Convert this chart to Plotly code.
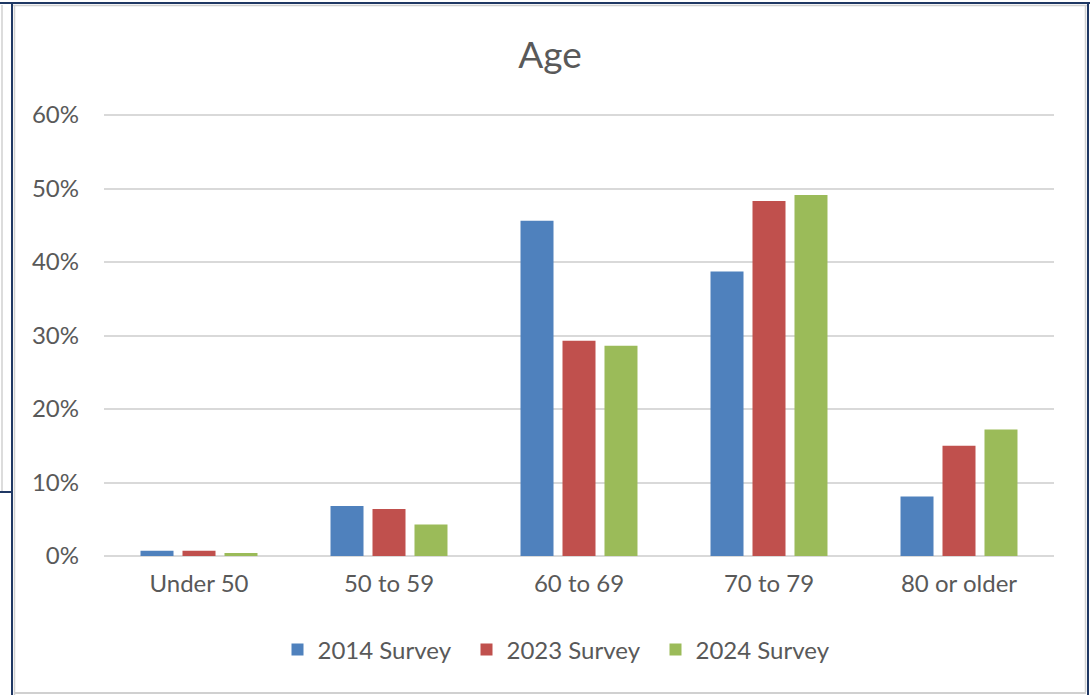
import plotly.graph_objects as go

# Age distribution of respondents across three survey rounds
age_groups = ["Under 50", "50 to 59", "60 to 69", "70 to 79", "80 or older"]
survey_2014 = [0.007, 0.068, 0.456, 0.387, 0.081]
survey_2023 = [0.007, 0.064, 0.293, 0.483, 0.150]
survey_2024 = [0.004, 0.043, 0.286, 0.491, 0.172]
y_ticks = [0, 0.1, 0.2, 0.3, 0.4, 0.5, 0.6]

series = [
    ("2014 Survey", survey_2014, "#4f81bd"),
    ("2023 Survey", survey_2023, "#c0504d"),
    ("2024 Survey", survey_2024, "#9bbb59"),
]

W, H = 1090, 695
L, R, T, B = 104, 36, 113, 139
Y_MAX = 0.6 * (H - T - B) / (H - 115 - B)
FONT = "Lato"
GREY_TEXT = "#595959"

fig = go.Figure()
for name, vals, color in series:
    fig.add_trace(go.Bar(
        x=age_groups, y=vals, name=name,
        marker=dict(color=color, line=dict(width=0)),
    ))


def px_x(p):
    return (p - L) / (W - L - R)


def px_y(p):
    return (H - B - p) / (H - T - B)


NAVY = "#1f3864"
LIGHT = "#d0d0d0"
frame = [
    # outer frame lines around the chart area
    (0, 3, W, 3, NAVY, 2),
    (12, 5.5, 1088, 5.5, LIGHT, 1.5),
    (12, 3, 12, H, NAVY, 2),
    (14.5, 5, 14.5, H, LIGHT, 1.5),
    (2, 5, 2, 492, LIGHT, 1.5),
    (0, 492, 12, 492, NAVY, 2),
    (1088, 3, 1088, H, NAVY, 2),
    (1085.5, 5, 1085.5, 692, LIGHT, 1.5),
    (14, 693, 1086, 693, LIGHT, 2),
]
shapes = []
for x0, y0, x1, y1, c, w in frame:
    shapes.append(dict(
        type="line", xref="paper", yref="paper",
        x0=px_x(x0), y0=px_y(y0), x1=px_x(x1), y1=px_y(y1),
        line=dict(color=c, width=w),
    ))

fig.update_layout(
    width=W, height=H,
    margin=dict(l=L, r=R, t=T, b=B, pad=0),
    paper_bgcolor="white", plot_bgcolor="white",
    barmode="group", bargap=0.337, bargroupgap=0.214,
    font=dict(family=FONT, color=GREY_TEXT, size=24),
    title=dict(
        text="Age", x=550 / W, xref="container", xanchor="center",
        y=1 - 55 / H, yref="container", yanchor="middle",
        font=dict(family=FONT, size=37, color=GREY_TEXT),
    ),
    legend=dict(
        orientation="h", x=561 / W, xref="container", xanchor="center",
        y=1 - 650 / H, yref="container", yanchor="middle",
        font=dict(family=FONT, size=24, color=GREY_TEXT),
        itemwidth=30, entrywidth=144, entrywidthmode="pixels",
        traceorder="normal",
    ),
    shapes=shapes,
    xaxis=dict(
        showgrid=False, showline=False, zeroline=False,
        ticks="", tickfont=dict(size=24, color=GREY_TEXT),
        ticklabelstandoff=11,
    ),
    yaxis=dict(
        range=[0, Y_MAX], tickvals=y_ticks, tickformat=".0%",
        showgrid=True, gridcolor="#d9d9d9", gridwidth=1.5,
        zeroline=True, zerolinecolor="#d9d9d9", zerolinewidth=1.5,
        showline=False, ticks="",
        tickfont=dict(size=24, color=GREY_TEXT),
        ticklabelstandoff=24,
    ),
)

fig.write_html("out.html")
